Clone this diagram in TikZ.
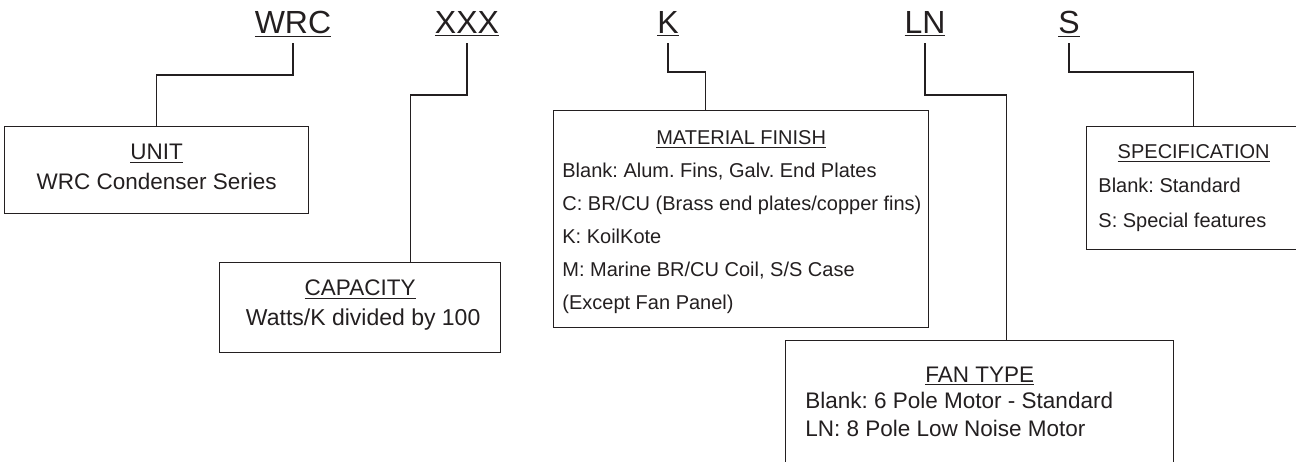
\documentclass[tikz,border=0pt]{standalone}
\usepackage{fontspec}
\setmainfont{Liberation Sans}
\frenchspacing
\usetikzlibrary{positioning, calc}
\definecolor{InkGray}{HTML}{231F20}
\tikzset{
  codelabel/.style={font=\fontsize{16}{19}\selectfont, text=InkGray, inner sep=0pt, outer ysep=3pt, anchor=base},
  box/.style={draw=InkGray, line width=0.65pt, anchor=north west, inner sep=0pt},
  headtext/.style={font=\fontsize{11.25}{13}\selectfont, text=InkGray, inner sep=0pt, anchor=base},
  bodytext/.style={font=\fontsize{11.25}{13}\selectfont, text=InkGray, inner sep=0pt, anchor=base west},
  smallhead/.style={font=\fontsize{10}{12}\selectfont, text=InkGray, inner sep=0pt, anchor=base},
  smallbody/.style={font=\fontsize{10}{12}\selectfont, text=InkGray, inner sep=0pt, anchor=base west},
  link/.style={draw=InkGray, line width=0.65pt}
}

\begin{document}
\begin{tikzpicture}[x=0.5pt, y=-0.5pt]
\clip (0,0) rectangle (1296,461);

% model code letters
\node[codelabel] (code-wrc) at (293,33) {\underline{WRC}};
\node[codelabel] (code-xxx) at (467,33) {\underline{XXX}};
\node[codelabel] (code-k) at (668,33) {\underline{K}};
\node[codelabel] (code-ln) at (925,33) {\underline{LN}};
\node[codelabel] (code-s) at (1069,33) {\underline{S}};

% boxes
\node[box, minimum width=152pt, minimum height=43.5pt] (unit) at (4,126) {};
\node[box, minimum width=140.5pt, minimum height=45pt] (cap) at (219,262) {};
\node[box, minimum width=187.5pt, minimum height=108.5pt] (mat) at (553,110) {};
\node[box, minimum width=194pt, minimum height=70pt] (fan) at (785,340) {};
\node[box, minimum width=107pt, minimum height=61.5pt] (spec) at (1086,126) {};

% box texts
\node[headtext] (unit-h) at (unit.north |- 0,159) {\underline{UNIT}};
\node[headtext] (unit-t) at (unit.north |- 0,189) {WRC Condenser Series};

\node[headtext] (cap-h) at (cap.north |- 0,295) {\underline{CAPACITY}};
\node[headtext, font=\fontsize{11.5}{13}\selectfont] (cap-t) at ([xshift=1.5pt]cap.north |- 0,325) {Watts/K divided by 100};

\node[smallhead] (mat-h) at (mat.north |- 0,144) {\underline{MATERIAL FINISH}};
\node[smallbody] (mat-a) at (562,177) {Blank: Alum. Fins, Galv. End Plates};
\node[smallbody] (mat-b) at (562,210) {C: BR/CU (Brass end plates/copper fins)};
\node[smallbody] (mat-c) at (562,243) {K: KoilKote};
\node[smallbody] (mat-d) at (562,276) {M: Marine BR/CU Coil, S/S Case};
\node[smallbody] (mat-e) at (562,309) {(Except Fan Panel)};

\node[headtext] (fan-h) at (fan.north |- 0,382) {\underline{FAN TYPE}};
\node[bodytext] (fan-a) at (805,408) {Blank: 6 Pole Motor - Standard};
\node[bodytext] (fan-b) at (805,436) {LN: 8 Pole Low Noise Motor};

\node[smallhead] (spec-h) at (spec.north |- 0,158) {\underline{SPECIFICATION}};
\node[smallbody] (spec-a) at (1098,192) {Blank: Standard};
\node[smallbody] (spec-b) at (1098,227) {S: Special features};

% connectors
\draw[link] (code-wrc.south) -- (code-wrc.south |- 0,75) -| (unit.north);
\draw[link] (code-xxx.south) -- (code-xxx.south |- 0,95) -| ([xshift=25.25pt]cap.north);
\draw[link] (code-k.south) -- (code-k.south |- 0,72) -| ([xshift=-17.75pt]mat.north);
\draw[link] (code-ln.south) -- (code-ln.south |- 0,95) -| ([xshift=13.5pt]fan.north);
\draw[link] (code-s.south) -- (code-s.south |- 0,72) -| (spec.north);
\end{tikzpicture}
\end{document}
